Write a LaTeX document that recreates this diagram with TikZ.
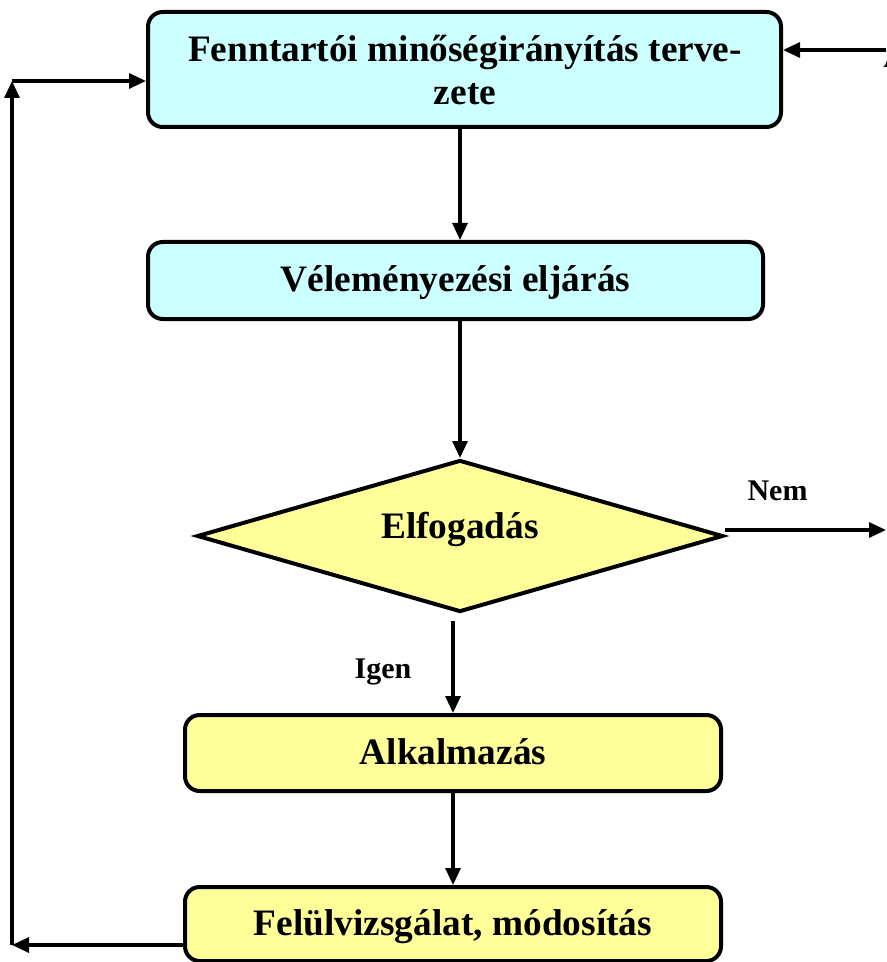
\documentclass[tikz,border=0pt]{standalone}
\usepackage{fontspec}
\setmainfont{Liberation Serif}
\usetikzlibrary{arrows.meta,shapes.geometric,calc}
\definecolor{boxcyan}{HTML}{CCFFFF}
\definecolor{boxyellow}{HTML}{FFFF99}
\begin{document}
\begin{tikzpicture}[x=0.75pt,y=-0.75pt,
  txt/.style={font=\fontsize{28}{32.25}\selectfont\bfseries},
  box/.style={draw=black,line width=3pt,rounded corners=11pt,inner sep=0pt,
    txt,text height=21pt,text depth=4.5pt},
  cbox/.style={box,fill=boxcyan},
  ybox/.style={box,fill=boxyellow},
  arr/.style={line width=2.4pt,-{Triangle[length=12.75pt,width=11.25pt]}},
  lbl/.style={font=\fontsize{22.5}{27}\selectfont\bfseries,inner sep=0pt,anchor=base}]
\useasboundingbox (0,0) rectangle (886,962);
\node[cbox,minimum width=474.75pt,minimum height=86.25pt] (b1) at (464.5,69.5) {};
\node[txt,inner sep=0pt,anchor=base] (t1a) at (465,61.7) {Fenntartói minőségirányítás terve-};
\node[txt,inner sep=0pt,anchor=base] (t1b) at (465,105) {zete};
\node[cbox,minimum width=461.25pt,minimum height=57.75pt] (b2) at (455.5,280.5)
  {Véleményezési eljárás};
\node[draw=black,line width=3pt,fill=boxyellow,shape=diamond,aspect=3.46,inner sep=0pt,
  minimum width=394.5pt,minimum height=114pt,
  txt,text height=10pt,text depth=7pt] (d) at (460,536) {Elfogadás};
\node[ybox,minimum width=402pt,minimum height=57pt] (b3) at (453,753) {Alkalmazás};
\node[ybox,minimum width=402pt,minimum height=55.5pt] (b4) at (453,924) {Felülvizsgálat, módosítás};
\node[lbl] (nem) at (777.5,500) {Nem};
\node[lbl] (igen) at (383,678) {Igen};
\node[lbl,anchor=base west] (cut) at (883,68) {A};
\coordinate (L1) at (12,945);
\coordinate (L2) at (12,81);
\coordinate (R1) at (886,50);
\coordinate (R2) at (886,530);
\draw[arr] (b1.south -| d.north) -- (b2.north -| d.north);
\draw[arr] (b2.south -| d.north) -- (d.north);
\draw[arr] ([yshift=-5pt]d.south -| b3.north) -- (b3.north);
\draw[arr] (b3.south) -- (b4.north);
\draw[arr] (b4.west |- L1) -- (L1);
\draw[arr] (L1) -- (L2);
\draw[arr] (L2) -- (b1.west |- L2);
\draw[arr] (R1) -- (b1.east |- R1);
\draw[arr] (d.east |- R2) -- (R2);
\end{tikzpicture}
\end{document}
